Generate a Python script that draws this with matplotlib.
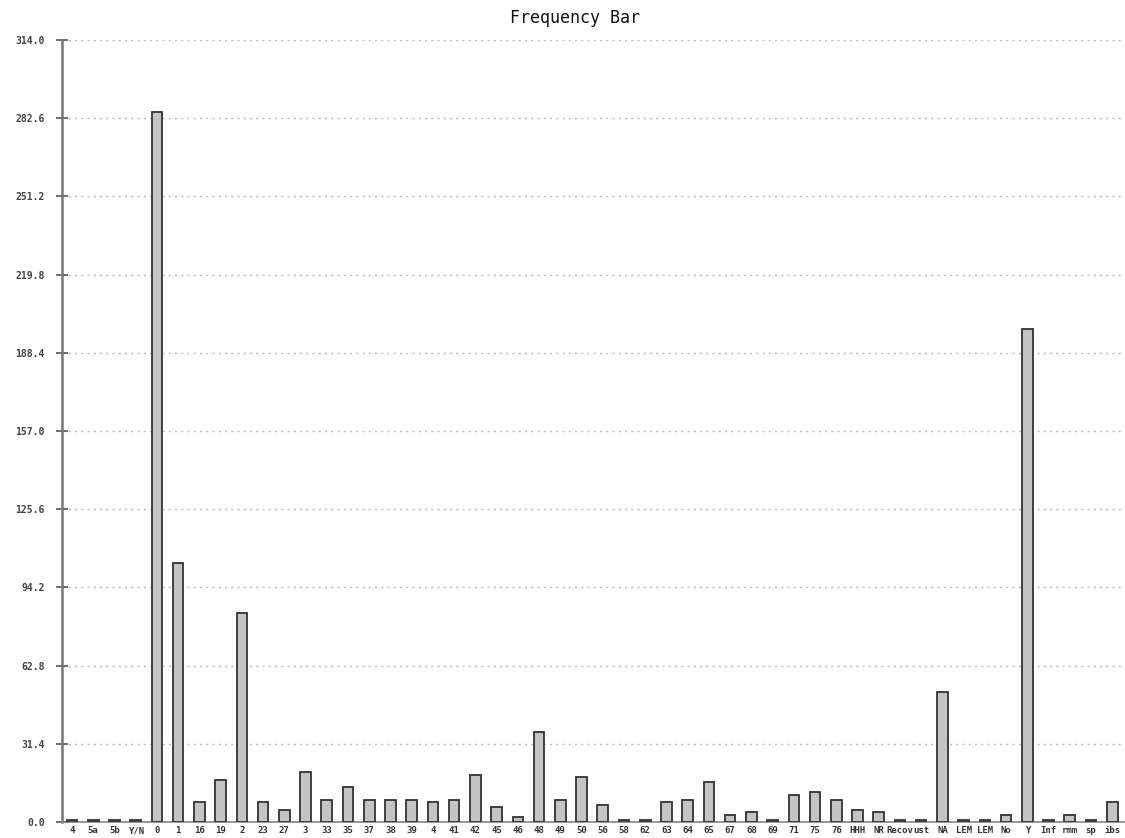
import matplotlib
matplotlib.use("Agg")
from matplotlib import pyplot as plt
import numpy as np

categories = ['4', '5a', '5b', 'Y/N', '0', '1', '16', '19', '2', '23', '27', '3',
              '33', '35', '37', '38', '39', '4', '41', '42', '45', '46', '48', '49',
              '50', '56', '58', '62', '63', '64', '65', '67', '68', '69', '71', '75',
              '76', 'HHH', 'NR', 'Recov', 'ust', 'NA', 'LEM', 'LEM', 'No', 'Y',
              'Inf', 'rmm', 'sp', 'ibs']
counts = [1, 1, 1, 1, 285, 104, 8, 17, 84, 8, 5, 20,
          9, 14, 9, 9, 9, 8, 9, 19, 6, 2, 36, 9,
          18, 7, 1, 1, 8, 9, 16, 3, 4, 1, 11, 12,
          9, 5, 4, 1, 1, 52, 1, 1, 3, 198,
          1, 3, 1, 8]
yticks = [0.0, 31.4, 62.8, 94.2, 125.6, 157.0, 188.4, 219.8, 251.2, 282.6, 314.0]

fig = plt.figure(figsize=(11.25, 8.38), dpi=100)
ax = fig.add_axes([62 / 1125, 1 - 822 / 838, 1 - 62 / 1125, (822 - 40) / 838])

x = np.arange(len(categories))
ax.bar(x, counts, width=0.5, color='#c4c4c4', edgecolor='#333333', linewidth=1.3, zorder=3)

ax.set_xlim(-0.47, 49.6)
ax.set_ylim(0, 314.0)
ax.set_yticks(yticks)
ax.set_yticklabels([f'{v:.1f}' for v in yticks], fontsize=7, family='DejaVu Sans Mono',
                   fontweight='bold', color='#444444')
ax.set_xticks(x)
ax.set_xticklabels(categories, fontsize=6.5, family='DejaVu Sans Mono',
                   fontweight='bold', color='#333333')
ax.tick_params(axis='x', length=0, pad=3)
ax.tick_params(axis='y', direction='inout', length=9, width=1.2, color='#555555', pad=8)

# dotted horizontal guides behind the bars
ax.yaxis.grid(True, linestyle=(0, (1.5, 3)), color='#bbbbbb', linewidth=1.0, zorder=0)
for s in ['top', 'right']:
    ax.spines[s].set_visible(False)
ax.spines['left'].set_color('#777777')
ax.spines['left'].set_linewidth(1.8)
ax.spines['bottom'].set_color('#888888')
ax.spines['bottom'].set_linewidth(1.2)

fig.text(575 / 1125, 1 - 18 / 838, 'Frequency Bar', ha='center', va='center',
         fontsize=12, family='DejaVu Sans Mono', color='#111111')

fig.savefig('out.png', dpi=100)
